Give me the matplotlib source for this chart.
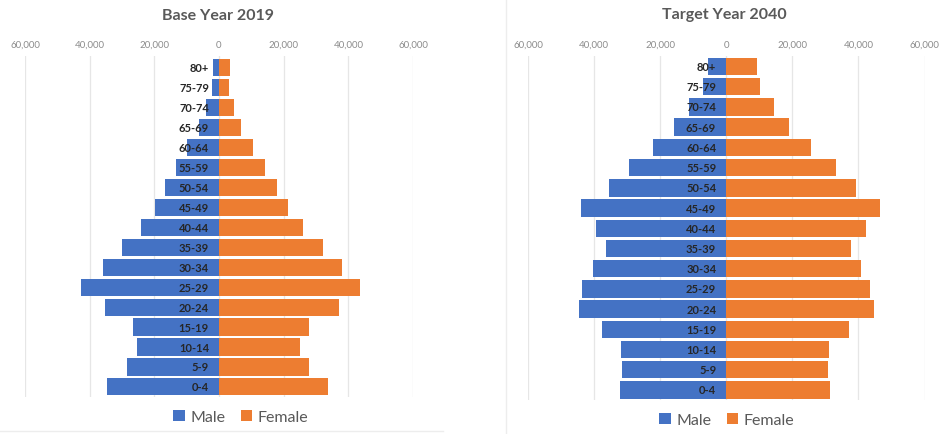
import matplotlib
matplotlib.use("Agg")
import matplotlib.pyplot as plt
from matplotlib.lines import Line2D
from matplotlib.patches import Patch
from matplotlib.ticker import FuncFormatter

plt.rcParams['font.family'] = ['Lato', 'DejaVu Sans']

age_groups = ["0-4", "5-9", "10-14", "15-19", "20-24", "25-29", "30-34", "35-39",
              "40-44", "45-49", "50-54", "55-59", "60-64", "65-69", "70-74", "75-79", "80+"]

male_2019 = [34650, 28500, 25400, 26650, 35250, 42650, 35900, 30000,
             24200, 19900, 16700, 13400, 10000, 6150, 3900, 2250, 2000]
female_2019 = [33650, 27700, 25000, 27700, 37150, 43500, 37950, 32300,
               25850, 21350, 18000, 14150, 10500, 6700, 4600, 3100, 3400]

male_2040 = [32300, 31600, 32000, 37600, 44550, 43700, 40400, 36350,
             39400, 44050, 35550, 29300, 22200, 15750, 11200, 7050, 5650]
female_2040 = [31400, 30700, 31100, 37300, 44850, 43500, 40700, 37900,
               42400, 46450, 39300, 33300, 25550, 19000, 14550, 10100, 9300]

tick_values = [-60000, -40000, -20000, 0, 20000, 40000, 60000]

MALE_COLOR = "#4472C4"
FEMALE_COLOR = "#ED7D31"
W, H = 939, 435

fig = plt.figure(figsize=(W / 100, H / 100), dpi=100)
fig.patch.set_facecolor("white")


def px_axes(x0, x1, ytop, ybot):
    return fig.add_axes([x0 / W, 1 - ybot / H, (x1 - x0) / W, (ybot - ytop) / H])


def pyramid(ax, male, female, ylim):
    y = list(range(len(age_groups)))
    ax.barh(y, [-m for m in male], height=0.86, color=MALE_COLOR, zorder=2)
    ax.barh(y, female, height=0.86, color=FEMALE_COLOR, zorder=2)
    ax.set_xlim(-60000, 60000)
    ax.set_ylim(*ylim)
    ax.set_xticks(tick_values)
    ax.xaxis.set_major_formatter(FuncFormatter(lambda v, p: f"{abs(int(v)):,}"))
    ax.xaxis.tick_top()
    ax.tick_params(axis="x", length=0, pad=5, labelsize=7, labelcolor="#8c8c8c")
    ax.set_yticks([])
    ax.grid(axis="x", color="#e6e6e6", linewidth=0.9, zorder=0)
    for s in ax.spines.values():
        s.set_visible(False)
    for yi, lab in zip(y, age_groups):
        ax.annotate(lab, xy=(0, yi), xytext=(-10, 0), textcoords="offset pixels",
                    ha="right", va="center", fontsize=8, fontweight="bold",
                    color="#262626", zorder=3)


ax1 = px_axes(25, 413, 57, 398)
pyramid(ax1, male_2019, female_2019, (-0.506, 16.59))

ax2 = px_axes(528, 924.5, 57, 401)
pyramid(ax2, male_2040, female_2040, (-0.495, 16.52))

fig.text(218 / W, 1 - 16 / H, "Base Year 2019", ha="center", va="center",
         fontsize=11.5, fontweight="bold", color="#595959")
fig.text(724 / W, 1 - 15 / H, "Target Year 2040", ha="center", va="center",
         fontsize=11.5, fontweight="bold", color="#595959")

handles = [Patch(facecolor=MALE_COLOR, label="Male"),
           Patch(facecolor=FEMALE_COLOR, label="Female")]
for cx, cy in [(241, 418), (727, 421)]:
    fig.legend(handles=handles, loc="center", bbox_to_anchor=(cx / W, 1 - cy / H),
               ncol=2, frameon=False, fontsize=11.5, labelcolor="#595959",
               handlelength=0.7, handleheight=0.7, handletextpad=0.35,
               columnspacing=1.0)

# faint chart-area borders
fig.add_artist(Line2D([506 / W, 506 / W], [0, 1], color="#ededed", linewidth=1))
fig.add_artist(Line2D([0, 443 / W], [1 - 432 / H, 1 - 432 / H], color="#ededed", linewidth=1))

fig.savefig("out.png", dpi=100, facecolor="white")
